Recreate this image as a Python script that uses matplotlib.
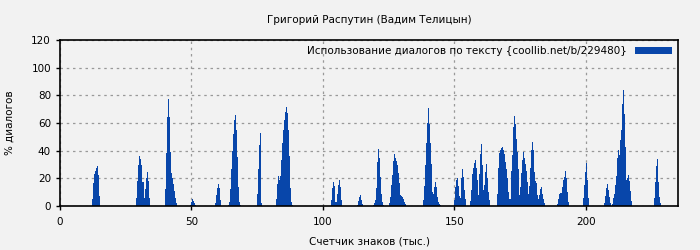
import numpy as np
import matplotlib
matplotlib.use('Agg')
import matplotlib.pyplot as plt

# Chart data: groups of bars, start position (thousands of chars) + heights (%)
step = 0.38
starts = [12.2, 28.9, 39.9, 49.3, 58.9, 63.9, 74.8, 82.1, 103.0, 113.0, 119.0,
          125.1, 138.0, 149.7, 155.9, 166.2, 188.9, 198.7, 206.7, 209.9, 225.9]
heights = [
    [5, 16.5, 23, 25.4, 27.3, 28.8, 22.3, 7.2],
    [5.8, 18, 29.7, 36, 33.8, 29.3, 17.3, 17, 5.8, 12.2, 20, 24.5, 18, 5.8],
    [12, 38, 64, 77, 64, 39, 24, 20, 16, 11, 6, 2],
    [1, 3, 5, 3.5, 2, 1],
    [2, 8, 12.7, 15.8, 12.7, 4],
    [0.5, 3, 12, 27, 40, 52, 62, 66, 55, 35.5, 14, 3, 1],
    [9, 27, 44, 53, 2],
    [5, 16, 21.6, 19, 21.6, 33, 45.5, 55, 62, 68, 71.5, 67, 55, 36, 12.7, 3, 0.7],
    [4.3, 12.7, 17.3, 14.4, 3, 3, 9, 15, 18.7, 13.4, 4.3],
    [0.7, 3.6, 6.7, 8, 4.3, 1.2],
    [0.7, 2, 4.3, 12.7, 32, 41, 35, 21, 9, 3, 0.7],
    [2, 6.7, 15, 22.3, 32.6, 37.4, 35, 32.4, 29.5, 23.5, 16.3, 8, 7.2, 6.2, 5, 3, 1.2],
    [4.3, 14.4, 29.5, 45.5, 60, 70.5, 59.5, 45.5, 30.7, 10.3, 9, 13.4, 17.3, 13.4,
     6.7, 3, 1.4, 0.5],
    [4.3, 14, 18.7, 20, 14.4, 7.2, 5.5, 20, 26.4, 21, 11.5, 4.8],
    [3.8, 11.5, 23, 27.8, 31, 33, 27.8, 18.7, 8, 23, 37.4, 45, 29.5, 11.5, 14.9,
     24.7, 30.2, 20.6, 10.3, 4.3],
    [9, 27.8, 38.4, 40.3, 41.7, 42.7, 40.3, 37.4, 32, 27, 20, 10.3, 4.8, 4.8, 25.4,
     36.7, 57, 64.7, 59, 48.7, 39, 26.4, 8, 14, 24, 33, 39, 35, 30.7, 25.4, 17.5, 9,
     14.4, 27.8, 40.8, 46.3, 40.3, 24.7, 18.2, 16.3, 8, 4.8, 8, 12, 13.4, 9, 4.8, 2.4],
    [1.4, 4.8, 8.6, 9.6, 9.6, 13.4, 18.7, 21, 25.4, 20.6, 10.3, 3],
    [5.5, 15, 24.7, 31, 18.7, 5.5],
    [2.4, 7.2, 12.7, 15.8, 11.5, 6.7, 2],
    [1.4, 5.5, 9, 15, 21.6, 35, 40.8, 36.7, 47.5, 54.7, 74, 84, 66.7, 42.7, 18.7,
     20.6, 22.3, 18.2, 10.8, 3.8],
    [5.5, 17.5, 28.8, 34.3, 17.5, 6.2, 2.4],
]

title = 'Григорий Распутин (Вадим Телицын)'
legend_label = 'Использование диалогов по тексту {coollib.net/b/229480}'
xlabel = 'Счетчик знаков (тыс.)'
ylabel = '% диалогов'

bar_color = '#0846aa'
bg = '#f2f2f2'

x = []
y = []
for s, h in zip(starts, heights):
    x.extend(s + step * np.arange(len(h)))
    y.extend(h)

plt.rcParams['font.family'] = ['DejaVu Sans']
plt.rcParams['font.size'] = 7.5

fig = plt.figure(figsize=(7, 2.5), dpi=100, facecolor=bg)
ax = fig.add_axes([0.0857, 0.176, 0.8829, 0.664], facecolor=bg)

ax.bar(x, y, width=step, align='edge', color=bar_color, linewidth=0,
       label=legend_label)

ax.set_xlim(0, 235)
ax.set_ylim(0, 120)
ax.set_xticks([0, 50, 100, 150, 200])
ax.set_yticks(range(0, 121, 20))
ax.grid(True, linestyle=(0, (2, 3)), color='#999999', linewidth=0.9)
ax.set_axisbelow(True)
for sp in ax.spines.values():
    sp.set_linewidth(1.2)
ax.tick_params(length=3, width=1, labelsize=7.5)
ax.tick_params(axis='x', pad=5)

ax.set_title(title, fontsize=7.5, pad=12)
ax.set_xlabel(xlabel, fontsize=7.5, labelpad=7)
ax.set_ylabel(ylabel, fontsize=7.5, labelpad=12)

ax.legend(loc='upper right', frameon=False, markerfirst=False,
          handlelength=3.5, handleheight=0.7, fontsize=7.5,
          borderaxespad=0.2)

fig.savefig('out.png', dpi=100, facecolor=bg)
